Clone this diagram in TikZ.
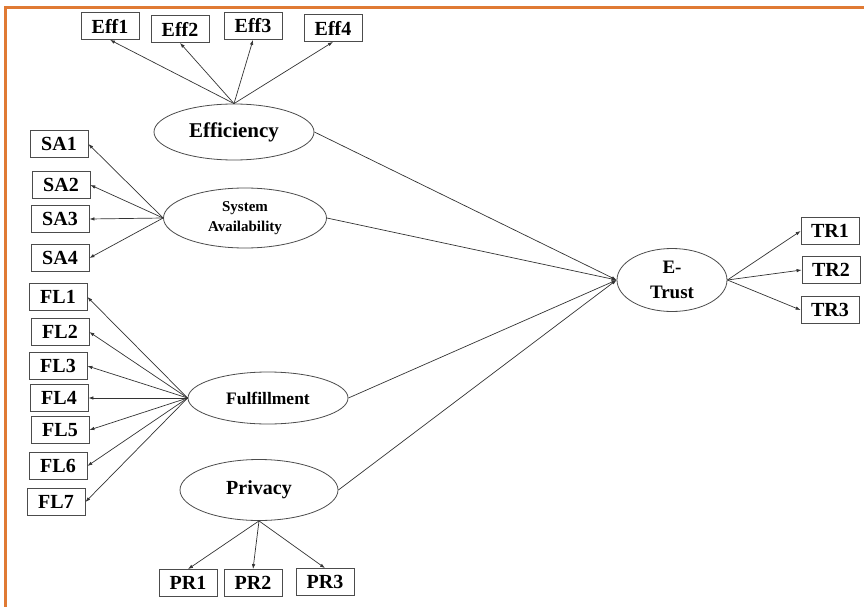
\documentclass[tikz,border=0pt]{standalone}
\usepackage{fontspec}
\setmainfont{Liberation Serif}
\usepackage{tikz}
\usetikzlibrary{shapes}
\usetikzlibrary{positioning}
\usetikzlibrary{arrows.meta}
\definecolor{frameorange}{RGB}{224,122,52}
\tikzset{
    item/.style={draw=black!70, line width=0.8pt, fill=white, minimum width=58pt, minimum height=27pt, inner sep=0pt, font=\fontsize{20}{22}\selectfont\bfseries},
    latent/.style={ellipse, draw=black!70, line width=0.8pt, fill=white, inner sep=0pt, align=center},
    load/.style={draw=black!80, line width=0.7pt, -{Latex[length=5pt,width=3.5pt]}}
}
\begin{document}
\begin{tikzpicture}[x=1pt, y=-1pt]
    \useasboundingbox (0,0) rectangle (864,607);
    \draw[frameorange, line width=3pt] (5,607) -- (5,8) -- (864,8);

    \node[latent, minimum width=160pt, minimum height=56pt, font=\fontsize{21}{23}\selectfont\bfseries] (eff) at (234,132) {Efficiency};
    \node[latent, minimum width=163pt, minimum height=60pt, font=\fontsize{15}{20}\selectfont\bfseries] (sa) at (245,218) {System\\Availability};
    \node[latent, minimum width=160pt, minimum height=52pt, font=\fontsize{17.5}{20}\selectfont\bfseries] (fl) at (268,398) {Fulfillment};
    \node[latent, minimum width=158pt, minimum height=61pt, font=\fontsize{20}{22}\selectfont\bfseries] (pr) at (259,490) {Privacy};
    \node[latent, minimum width=110pt, minimum height=63pt, font=\fontsize{19}{25}\selectfont\bfseries] (trust) at (672,280) {E-\\Trust};

    \node[item] (eff1) at (110,26) {Eff1};
    \node[item] (eff2) at (180,29) {Eff2};
    \node[item] (eff3) at (253,26) {Eff3};
    \node[item] (eff4) at (333,28) {Eff4};

    \node[item] (sa1) at (59,144) {SA1};
    \node[item] (sa2) at (61,185) {SA2};
    \node[item] (sa3) at (60,219) {SA3};
    \node[item] (sa4) at (60,258) {SA4};

    \node[item] (fl1) at (58,297) {FL1};
    \node[item] (fl2) at (60,332) {FL2};
    \node[item] (fl3) at (58,366) {FL3};
    \node[item] (fl4) at (59,398) {FL4};
    \node[item] (fl5) at (60,430) {FL5};
    \node[item] (fl6) at (58,466) {FL6};
    \node[item] (fl7) at (56,502) {FL7};

    \node[item] (pr1) at (188,583) {PR1};
    \node[item] (pr2) at (253,583) {PR2};
    \node[item] (pr3) at (325,582) {PR3};

    \node[item] (tr1) at (830,231) {TR1};
    \node[item] (tr2) at (831,270) {TR2};
    \node[item] (tr3) at (830,310) {TR3};

    \foreach \i in {1,...,4} \draw[load] (eff.north) -- (eff\i.south);
    \foreach \i in {1,...,4} \draw[load] (sa.west) -- (sa\i.east);
    \foreach \i in {1,...,7} \draw[load] (fl.west) -- (fl\i.east);
    \foreach \i in {1,...,3} \draw[load] (pr.south) -- (pr\i.north);
    \foreach \i in {1,...,3} \draw[load] (trust.east) -- (tr\i.west);

    \draw[load] (eff.east) -- (trust.west);
    \draw[load] (sa.east) -- (trust.west);
    \draw[load] (fl.east) -- (trust.west);
    \draw[load] (pr.east) -- (trust.west);
\end{tikzpicture}
\end{document}
